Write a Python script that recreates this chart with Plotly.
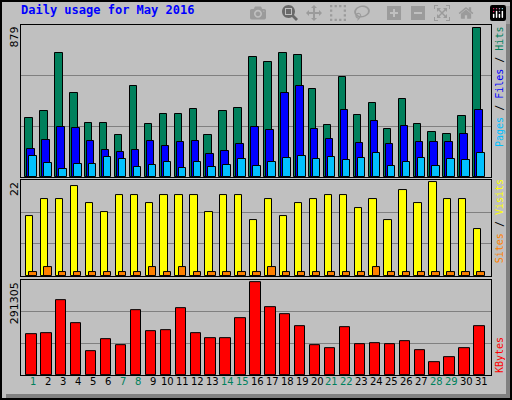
import plotly.graph_objects as go

days = list(range(1, 32))
hits = [349,390,732,494,320,320,245,535,314,372,372,401,245,390,407,709,680,732,720,517,309,587,367,436,280,459,314,268,251,361,879]
files = [164,216,297,291,210,158,146,158,210,181,204,210,135,152,193,297,274,494,535,285,222,396,199,332,193,303,204,204,204,251,396]
pages = [123,82,48,77,77,117,106,59,71,88,53,88,59,71,106,65,88,111,123,106,117,100,111,140,65,88,111,65,106,100,140]
visits = [14,18,18,21,17,15,19,19,17,19,19,19,15,19,19,13,18,14,17,18,19,19,16,18,13,20,17,22,18,18,11]
sites = [1,2,1,1,1,1,1,1,2,1,2,1,1,1,1,1,2,1,1,1,1,1,1,2,1,1,1,1,1,1,1]
kbytes = [127600,130800,236000,162600,73400,112700,92500,204000,137000,140300,210500,130800,114800,114800,178600,291305,213700,191400,153100,92500,82900,149900,95700,98900,95700,105200,76500,41500,57400,82900,153100]
weekend = {1,7,8,14,15,21,22,28,29}

fig = go.Figure()
ln = dict(color="black", width=1)
def bar(y, color, off, w, ax):
    fig.add_trace(go.Bar(x=days, y=y, marker=dict(color=color, line=ln), offset=off, width=w,
                         xaxis="x" if ax == 1 else "x%d" % ax, yaxis="y" if ax == 1 else "y%d" % ax,
                         showlegend=False, hoverinfo="skip"))

bar(hits, "#00805C", -0.25, 0.5, 1)
bar(files, "#0000FF", -0.116, 0.5, 1)
bar(pages, "#00C0FF", 0.018, 0.5, 1)
bar(visits, "#FFFF00", -0.2, 0.49, 2)
bar(sites, "#FF8000", 0.018, 0.49, 2)
bar(kbytes, "#FF0000", -0.183, 0.69, 3)

xr = [0.462, 31.94]
def xa(anchor):
    return dict(range=xr, showticklabels=False, ticks="", showgrid=False, zeroline=False,
                showline=True, mirror=True, linecolor="black", linewidth=1, anchor=anchor)
def ya(top, dom, anchor):
    return dict(range=[0, top * 1.02], domain=dom, tickvals=[top * 1.02 / 3, top * 1.02 * 2 / 3],
                showticklabels=False, ticks="", showgrid=True, gridcolor="#808080", gridwidth=1,
                zeroline=False, showline=True, mirror=True, linecolor="black", linewidth=1, anchor=anchor)

fig.update_layout(
    width=512, height=400, margin=dict(l=21, r=21, t=25, b=25),
    paper_bgcolor="#C0C0C0", plot_bgcolor="#C0C0C0", barmode="overlay", bargap=0,
    xaxis=xa("y"), xaxis2=xa("y2"), xaxis3=xa("y3"),
    yaxis=ya(max(hits), [0.566, 1], "x"),
    yaxis2=ya(max(visits), [0.283, 0.557], "x2"),
    yaxis3=ya(max(kbytes), [0, 0.271], "x3"),
    font=dict(family="DejaVu Sans", size=10, color="black"),
)

fig.add_annotation(text="<b>Daily usage for May 2016</b>", xref="paper", yref="paper", x=-0.0, y=1.0,
                   yshift=15, xshift=-2, xanchor="left", yanchor="middle", showarrow=False,
                   font=dict(family="DejaVu Sans Mono", size=12, color="#0000FF"))
for lab, ytop in [(str(max(hits)), 1.0), (str(max(visits)), 0.557), (str(max(kbytes)), 0.271)]:
    fig.add_annotation(text=lab, textangle=-90, xref="paper", yref="paper", x=0, xshift=-7, y=ytop,
                       xanchor="center", yanchor="top", showarrow=False, font=dict(size=11))
fig.add_annotation(text="<span style='color:#00C0FF'>Pages</span> / <span style='color:#0000FF'>Files</span> / <span style='color:#00805C'>Hits</span>",
                   textangle=-90, xref="paper", yref="paper", x=1, xshift=8, y=1.0, xanchor="center", yanchor="top",
                   showarrow=False, font=dict(family="DejaVu Sans Mono", size=10))
fig.add_annotation(text="<span style='color:#FF8000'>Sites</span> / <span style='color:#FFFF00'>Visits</span>",
                   textangle=-90, xref="paper", yref="paper", x=1, xshift=8, y=0.565, xanchor="center", yanchor="top",
                   showarrow=False, font=dict(family="DejaVu Sans Mono", size=10))
fig.add_annotation(text="<span style='color:#FF0000'>KBytes</span>",
                   textangle=-90, xref="paper", yref="paper", x=1, xshift=8, y=0.0, xanchor="center", yanchor="bottom",
                   showarrow=False, font=dict(family="DejaVu Sans Mono", size=10))
for d in days:
    fig.add_annotation(text=str(d), x=d + 0.29, xref="x3", y=0, yref="paper", yshift=-14,
                       showarrow=False, font=dict(size=10, color="#00805C" if d in weekend else "black"))
fig.add_shape(type="rect", xref="paper", yref="paper", x0=-20/470, x1=1+20/470, y0=-24/350, y1=1+24/350,
              line=dict(color="black", width=2))
fig.add_shape(type="rect", xref="paper", yref="paper", x0=1+15/470, x1=1+19/470, y0=-19/350, y1=1+19/350,
              line=dict(width=0), fillcolor="#808080")
fig.add_shape(type="rect", xref="paper", yref="paper", x0=-15/470, x1=1+19/470, y0=-23/350, y1=-19/350,
              line=dict(width=0), fillcolor="#808080")
fig.write_html("out.html", post_script="document.body.style.margin='0';document.body.style.overflow='hidden';")
